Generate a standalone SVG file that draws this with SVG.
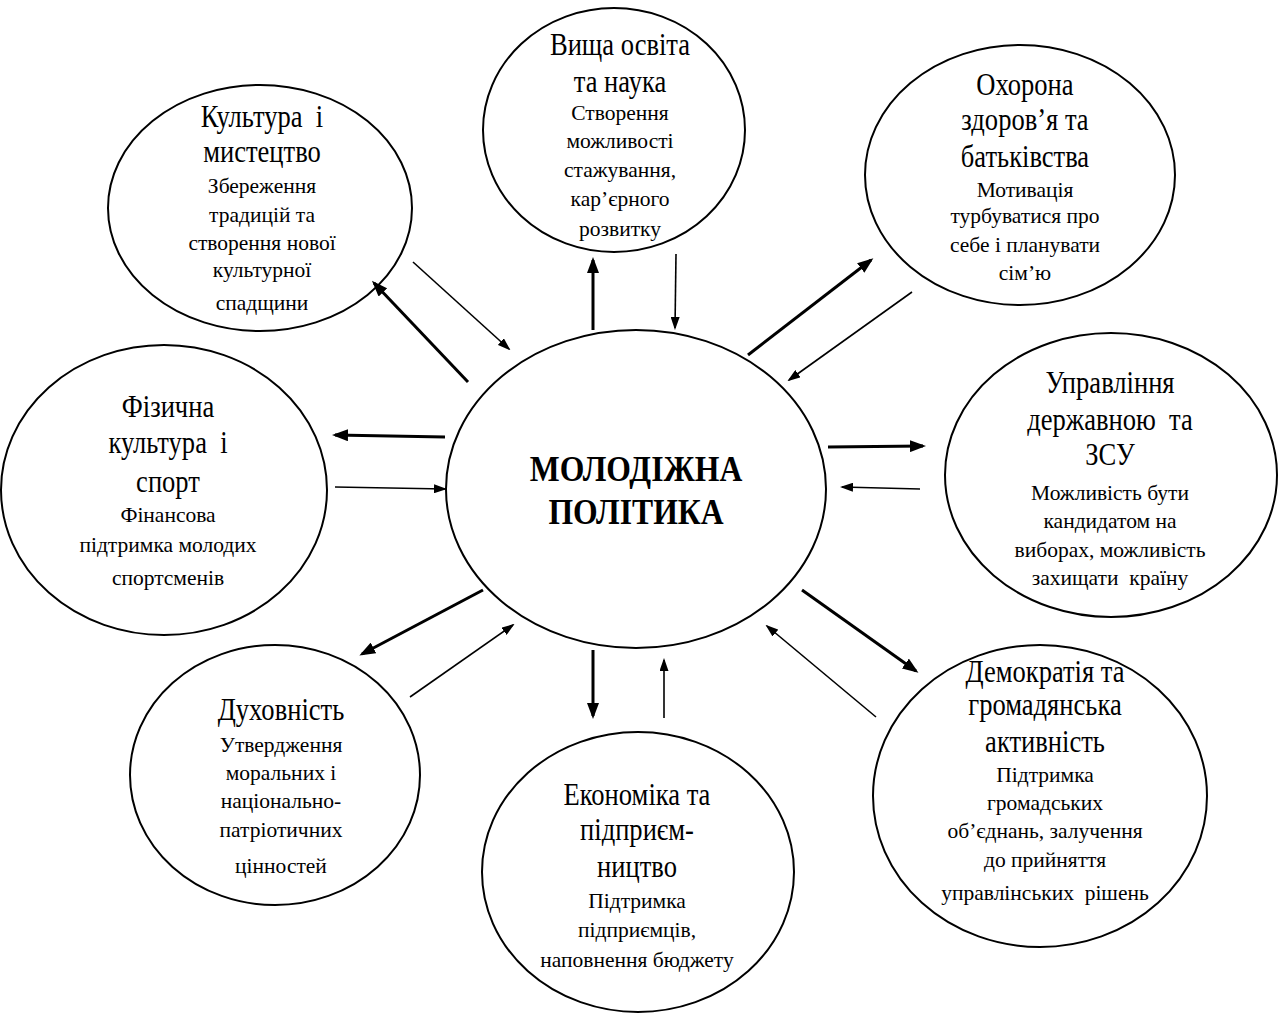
<svg xmlns="http://www.w3.org/2000/svg" width="1283" height="1019" viewBox="0 0 1283 1019">
<style>
  .bg { fill: #ffffff; }
  .node { fill: #ffffff; stroke: #000000; stroke-width: 2; }
  text { font-family: "Liberation Serif", "Times New Roman", serif; fill: #000000; text-anchor: middle; white-space: pre; }
  .t { font-size: 32px; transform-box: fill-box; transform-origin: center; transform: scaleX(0.83); }
  .s { font-size: 21.5px; }
  .c { font-size: 36px; font-weight: bold; transform-box: fill-box; transform-origin: center; transform: scaleX(0.88); }
  .thick { stroke: #000000; stroke-width: 3; fill: none; marker-end: url(#ah); }
  .thin { stroke: #000000; stroke-width: 1.6; fill: none; marker-end: url(#ahs); }
</style>
<defs>
  <marker id="ah" markerWidth="16" markerHeight="12" refX="13" refY="6" orient="auto" markerUnits="userSpaceOnUse">
    <path d="M0,0 L16,6 L0,12 z" fill="#000"/>
  </marker>
  <marker id="ahs" markerWidth="13" markerHeight="9" refX="11" refY="4.5" orient="auto" markerUnits="userSpaceOnUse">
    <path d="M0,0 L13,4.5 L0,9 z" fill="#000"/>
  </marker>
</defs>
<rect class="bg" x="0" y="0" width="1283" height="1019"/>

<g id="center">
  <ellipse class="node" cx="636" cy="489" rx="190" ry="159"/>
  <text class="c" x="636" y="481">МОЛОДІЖНА</text>
  <text class="c" x="636" y="524">ПОЛІТИКА</text>
</g>

<g id="culture">
  <ellipse class="node" cx="260" cy="208" rx="152" ry="123"/>
  <text class="t" x="262" y="127">Культура  і</text>
  <text class="t" x="262" y="162">мистецтво</text>
  <text class="s" x="262" y="193">Збереження</text>
  <text class="s" x="262" y="222">традицій та</text>
  <text class="s" x="262" y="250">створення нової</text>
  <text class="s" x="262" y="277">культурної</text>
  <text class="s" x="262" y="310">спадщини</text>
</g>

<g id="education">
  <ellipse class="node" cx="614" cy="130" rx="131" ry="122"/>
  <text class="t" x="620" y="55">Вища освіта</text>
  <text class="t" x="620" y="92">та наука</text>
  <text class="s" x="620" y="120">Створення</text>
  <text class="s" x="620" y="148">можливості</text>
  <text class="s" x="620" y="177">стажування,</text>
  <text class="s" x="620" y="206">кар’єрного</text>
  <text class="s" x="620" y="236">розвитку</text>
</g>

<g id="health">
  <ellipse class="node" cx="1020" cy="175" rx="155" ry="130"/>
  <text class="t" x="1025" y="95">Охорона</text>
  <text class="t" x="1025" y="130">здоров’я та</text>
  <text class="t" x="1025" y="167">батьківства</text>
  <text class="s" x="1025" y="197">Мотивація</text>
  <text class="s" x="1025" y="223">турбуватися про</text>
  <text class="s" x="1025" y="252">себе і планувати</text>
  <text class="s" x="1025" y="280">сім’ю</text>
</g>

<g id="sport">
  <ellipse class="node" cx="164" cy="490" rx="163" ry="145"/>
  <text class="t" x="168" y="417">Фізична</text>
  <text class="t" x="168" y="453">культура  і</text>
  <text class="t" x="168" y="492">спорт</text>
  <text class="s" x="168" y="522">Фінансова</text>
  <text class="s" x="168" y="552">підтримка молодих</text>
  <text class="s" x="168" y="585">спортсменів</text>
</g>

<g id="government">
  <ellipse class="node" cx="1111" cy="475" rx="166" ry="142"/>
  <text class="t" x="1110" y="393">Управління</text>
  <text class="t" x="1110" y="430">державною  та</text>
  <text class="t" x="1110" y="465">ЗСУ</text>
  <text class="s" x="1110" y="500">Можливість бути</text>
  <text class="s" x="1110" y="528">кандидатом на</text>
  <text class="s" x="1110" y="557">виборах, можливість</text>
  <text class="s" x="1110" y="585">захищати  країну</text>
</g>

<g id="spirituality">
  <ellipse class="node" cx="275" cy="775" rx="145" ry="130"/>
  <text class="t" x="281" y="720">Духовність</text>
  <text class="s" x="281" y="752">Утвердження</text>
  <text class="s" x="281" y="780">моральних і</text>
  <text class="s" x="281" y="808">національно-</text>
  <text class="s" x="281" y="837">патріотичних</text>
  <text class="s" x="281" y="873">цінностей</text>
</g>

<g id="economy">
  <ellipse class="node" cx="638" cy="872" rx="156" ry="140"/>
  <text class="t" x="637" y="805">Економіка та</text>
  <text class="t" x="637" y="840">підприєм-</text>
  <text class="t" x="637" y="877">ництво</text>
  <text class="s" x="637" y="908">Підтримка</text>
  <text class="s" x="637" y="937">підприємців,</text>
  <text class="s" x="637" y="967">наповнення бюджету</text>
</g>

<g id="democracy">
  <ellipse class="node" cx="1040" cy="796" rx="167" ry="151"/>
  <text class="t" x="1045" y="682">Демократія та</text>
  <text class="t" x="1045" y="715">громадянська</text>
  <text class="t" x="1045" y="752">активність</text>
  <text class="s" x="1045" y="782">Підтримка</text>
  <text class="s" x="1045" y="810">громадських</text>
  <text class="s" x="1045" y="838">об’єднань, залучення</text>
  <text class="s" x="1045" y="867">до прийняття</text>
  <text class="s" x="1045" y="900">управлінських  рішень</text>
</g>

<g id="connectors">
  <line class="thick" x1="468" y1="382" x2="374" y2="283"/>
  <line class="thin" x1="413" y1="262" x2="509" y2="349"/>
  <line class="thick" x1="593" y1="330" x2="593" y2="260"/>
  <line class="thin" x1="676" y1="254" x2="675" y2="328"/>
  <line class="thick" x1="748" y1="355" x2="871" y2="260"/>
  <line class="thin" x1="912" y1="292" x2="789" y2="380"/>
  <line class="thick" x1="445" y1="437" x2="335" y2="435"/>
  <line class="thin" x1="335" y1="487" x2="445" y2="489"/>
  <line class="thick" x1="828" y1="447" x2="923" y2="446"/>
  <line class="thin" x1="920" y1="489" x2="842" y2="487"/>
  <line class="thick" x1="483" y1="590" x2="362" y2="654"/>
  <line class="thin" x1="410" y1="697" x2="513" y2="625"/>
  <line class="thick" x1="593" y1="650" x2="593" y2="716"/>
  <line class="thin" x1="664" y1="718" x2="664" y2="660"/>
  <line class="thick" x1="802" y1="590" x2="916" y2="671"/>
  <line class="thin" x1="876" y1="717" x2="767" y2="626"/>
</g>
</svg>
